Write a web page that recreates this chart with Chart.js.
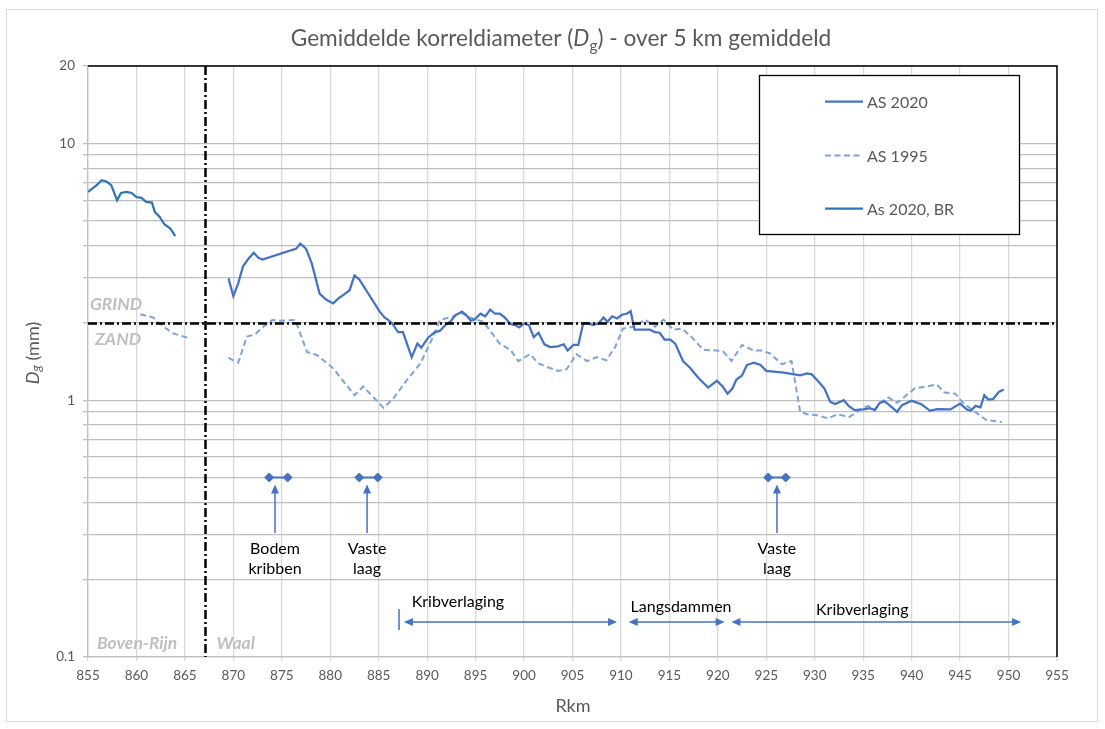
<!DOCTYPE html>
<html><head><meta charset="utf-8">
<script src="https://cdn.jsdelivr.net/npm/chart.js@4.4.1/dist/chart.umd.min.js"></script>
<style>html,body{margin:0;padding:0;background:#fff}canvas{display:block}</style>
</head><body><canvas id="c" width="1105" height="729"></canvas>
<script>
// ---------- data ----------
const as2020Km = [869.5,870.0,870.5,871.0,871.5,872.1,872.6,873.0,876.5,876.9,877.5,878.1,878.9,879.6,880.3,880.9,881.3,882.0,882.5,883.0,885.1,885.6,886.0,886.4,887.0,887.5,888.4,889.0,889.4,890.1,890.8,891.3,892.0,892.4,892.9,893.6,894.0,894.5,894.9,895.5,896.0,896.5,897.0,897.5,898.0,898.6,899.1,899.5,900.0,900.5,901.0,901.5,902.1,902.7,903.5,904.1,904.5,905.1,905.6,906.1,906.5,907.1,907.7,908.2,908.6,909.1,909.6,910.1,910.6,911.0,911.4,912.1,913.0,913.5,914.0,914.5,915.1,915.6,916.4,917.1,918.0,919.0,919.9,920.5,921.0,921.5,921.9,922.5,923.0,923.7,924.4,925.0,926.8,928.5,929.2,929.7,930.4,931.0,931.6,932.1,933.0,933.5,934.1,935.0,935.7,936.2,936.7,937.2,937.7,938.5,939.0,940.0,941.0,941.9,942.6,944.0,945.0,945.7,946.1,946.6,947.1,947.5,947.9,948.4,949.0,949.5];
const as2020Dg = [2.98,2.54,2.85,3.32,3.53,3.75,3.58,3.53,3.89,4.07,3.89,3.40,2.60,2.46,2.38,2.50,2.56,2.68,3.06,2.95,2.21,2.10,2.05,1.99,1.84,1.84,1.47,1.66,1.60,1.75,1.84,1.86,1.98,2.02,2.14,2.21,2.15,2.04,2.06,2.17,2.12,2.25,2.17,2.17,2.10,1.98,1.96,1.92,1.99,1.96,1.76,1.83,1.65,1.61,1.62,1.65,1.56,1.64,1.64,1.99,2.00,1.96,1.99,2.10,2.02,2.12,2.08,2.15,2.17,2.22,1.88,1.88,1.88,1.84,1.83,1.72,1.72,1.66,1.42,1.34,1.22,1.12,1.19,1.13,1.06,1.11,1.20,1.25,1.37,1.40,1.37,1.30,1.28,1.25,1.27,1.26,1.18,1.11,0.985,0.965,1.00,0.95,0.914,0.92,0.93,0.914,0.976,0.99,0.956,0.90,0.956,0.994,0.965,0.909,0.923,0.92,0.97,0.92,0.909,0.95,0.937,1.046,1.006,1.01,1.077,1.10];

const as1995Km = [860.4,861.7,862.8,863.8,865.5,867.0,869.5,870.5,871.4,872.2,873.1,874.0,874.8,876.4,877.6,878.6,880.3,882.5,883.4,885.5,886.5,887.9,889.3,890.6,891.3,892.7,893.4,894.4,895.8,897.5,898.6,899.4,900.6,901.5,902.3,903.5,904.4,905.4,906.5,907.5,908.5,909.4,910.2,911.3,912.5,913.5,914.4,915.4,916.3,917.3,918.5,919.9,920.6,921.4,922.5,923.7,924.5,925.4,926.6,927.6,928.5,929.3,930.2,931.4,932.3,933.6,934.7,935.5,936.2,936.9,937.6,938.5,940.3,941.5,942.6,943.4,944.5,945.3,946.4,947.7,949.3];
const as1995Dg = [2.16,2.10,1.93,1.82,1.74,null,1.46,1.40,1.77,1.80,1.93,2.05,2.04,2.05,1.54,1.50,1.33,1.046,1.13,0.933,1.015,1.196,1.39,1.76,2.05,2.12,2.20,2.10,2.02,1.66,1.57,1.42,1.51,1.39,1.35,1.30,1.32,1.51,1.42,1.47,1.43,1.61,1.90,1.93,2.06,1.93,2.06,1.88,1.90,1.76,1.57,1.56,1.54,1.42,1.64,1.56,1.56,1.52,1.38,1.42,0.90,0.88,0.874,0.849,0.88,0.861,0.92,0.95,0.92,0.985,1.024,0.976,1.11,1.13,1.15,1.07,1.06,0.976,0.909,0.836,0.823];

const br2020Km = [855.0,855.9,856.4,856.9,857.4,858.0,858.4,859.0,859.5,860.0,860.5,861.0,861.6,861.9,862.4,862.9,863.5,864.0];
const br2020Dg = [6.47,6.87,7.18,7.10,6.87,6.00,6.41,6.47,6.41,6.18,6.13,5.91,5.88,5.40,5.17,4.83,4.66,4.35];

const seriesNames = ["AS 2020","AS 1995","As 2020, BR"];
const yGridValues = [0.1,0.2,0.3,0.4,0.5,0.6,0.7,0.8,0.9,1,2,3,4,5,6,7,8,9,10,20];
const yLabelValues = [0.1,1,10,20];

const markerKm = [[873.7,875.6],[883.0,884.9],[925.2,927.0]];
const markerDg = 0.5;
const upArrowKm = [874.3,883.8,926.1];
const upArrowLabels = [["Bodem","kribben"],["Vaste","laag"],["Vaste","laag"]];
const spanKm = [[887.6,909.6],[910.8,920.7],[921.4,951.3]];
const spanStartTickKm = 887.1;
const spanLabels = ["Kribverlaging","Langsdammen","Kribverlaging"];
const spanLabelKm = [888.4,916.2,934.9];
const boundaryKm = 867.1;
const grindZandDg = 2.0;
const reachLabels = ["Boven-Rijn","Waal"];

// ---------- chart ----------
const FONT = "Lato, 'Open Sans', sans-serif";
const pts = (xs, ys) => xs.map((x,i)=>({x:x, y:ys[i]}));

const markerSets = markerKm.map(p => ({
  label: 'marker', data: pts(p, [markerDg, markerDg]),
  borderColor:'#4472C4', backgroundColor:'#4472C4', borderWidth:2,
  pointStyle:'rectRot', pointRadius:4.5, pointBorderWidth:1, fill:false
}));

function arrowHead(ctx, x, y, dir, len, half) {
  ctx.beginPath();
  if (dir === 'up') { ctx.moveTo(x,y); ctx.lineTo(x-half,y+len); ctx.lineTo(x+half,y+len); }
  else if (dir === 'left') { ctx.moveTo(x,y); ctx.lineTo(x+len,y-half); ctx.lineTo(x+len,y+half); }
  else { ctx.moveTo(x,y); ctx.lineTo(x-len,y-half); ctx.lineTo(x-len,y+half); }
  ctx.closePath(); ctx.fill();
}

const decor = {
  id:'decor',
  beforeDraw(chart){
    const ctx = chart.ctx;
    ctx.save(); ctx.fillStyle='#fff'; ctx.fillRect(0,0,chart.width,chart.height); ctx.restore();
  },
  afterDatasetsDraw(chart){
    const ctx = chart.ctx, a = chart.chartArea;
    const xs = chart.scales.x, ys = chart.scales.y;
    ctx.save();
    // dash-dot boundary lines
    ctx.strokeStyle = '#000'; ctx.lineWidth = 2.5; ctx.setLineDash([9,3,2,3]);
    const bx = Math.round(xs.getPixelForValue(boundaryKm))+0.5;
    ctx.beginPath(); ctx.moveTo(bx, a.top); ctx.lineTo(bx, a.bottom); ctx.stroke();
    const gy = Math.round(ys.getPixelForValue(grindZandDg))+0.5;
    ctx.beginPath(); ctx.moveTo(a.left, gy); ctx.lineTo(a.right, gy); ctx.stroke();
    ctx.setLineDash([]);
    // plot border top & right
    ctx.lineWidth = 1.5; ctx.strokeStyle='#000';
    ctx.beginPath(); ctx.moveTo(a.left, a.top); ctx.lineTo(a.right, a.top); ctx.lineTo(a.right, a.bottom); ctx.stroke();

    // GRIND / ZAND, reach labels
    ctx.fillStyle = '#BFBFBF'; ctx.font = 'italic bold 17.5px '+FONT; ctx.textBaseline='middle'; ctx.textAlign='left';
    ctx.fillText('GRIND', a.left+2, gy-19);
    ctx.fillText('ZAND', a.left+7, gy+16);
    ctx.fillText(reachLabels[0], a.left+9, a.bottom-14);
    ctx.fillText(reachLabels[1], bx+11, a.bottom-14);

    // up arrows & labels
    ctx.strokeStyle = '#4472C4'; ctx.fillStyle = '#4472C4'; ctx.lineWidth = 1.5;
    const tipY = ys.getPixelForValue(0.47), baseY = ys.getPixelForValue(0.304);
    upArrowKm.forEach((km,i)=>{
      const x = xs.getPixelForValue(km);
      ctx.beginPath(); ctx.moveTo(x, baseY); ctx.lineTo(x, tipY+6); ctx.stroke();
      arrowHead(ctx, x, tipY, 'up', 9, 4);
    });
    ctx.fillStyle = '#000'; ctx.font = '16px '+FONT; ctx.textAlign='center';
    upArrowKm.forEach((km,i)=>{
      const x = xs.getPixelForValue(km);
      ctx.fillText(upArrowLabels[i][0], x, baseY+16);
      ctx.fillText(upArrowLabels[i][1], x, baseY+36);
    });

    // horizontal span arrows
    const sy = ys.getPixelForValue(0.137);
    ctx.strokeStyle = '#4472C4'; ctx.fillStyle = '#4472C4'; ctx.lineWidth = 1.5;
    spanKm.forEach(s=>{
      const x1 = xs.getPixelForValue(s[0]), x2 = xs.getPixelForValue(s[1]);
      ctx.beginPath(); ctx.moveTo(x1+6, sy); ctx.lineTo(x2-6, sy); ctx.stroke();
      arrowHead(ctx, x1, sy, 'left', 9, 4);
      arrowHead(ctx, x2, sy, 'right', 9, 4);
    });
    const tx = xs.getPixelForValue(spanStartTickKm);
    ctx.beginPath(); ctx.moveTo(tx, sy-13); ctx.lineTo(tx, sy+8); ctx.stroke();
    ctx.fillStyle = '#000'; ctx.font = '16px '+FONT;
    const offs = [-20,-15,-12], aligns = ['left','center','center'];
    spanLabels.forEach((t,i)=>{
      ctx.textAlign = aligns[i];
      ctx.fillText(t, xs.getPixelForValue(spanLabelKm[i]), sy+offs[i]);
    });
    ctx.restore();
  },
  afterDraw(chart){
    const ctx = chart.ctx, a = chart.chartArea;
    ctx.save();
    // outer frame
    ctx.strokeStyle = '#D9D9D9'; ctx.lineWidth = 1;
    ctx.strokeRect(6.5, 9.5, 1091, 712);

    // title
    const parts = [
      {t:'Gemiddelde korreldiameter (', f:'', s:1, dy:0},
      {t:'D', f:'italic ', s:1, dy:0},
      {t:'g', f:'', s:0.68, dy:5},
      {t:') - over 5 km gemiddeld', f:'', s:1, dy:0}
    ];
    const base = 18;
    let w0 = 0;
    parts.forEach(p=>{ ctx.font = p.f + (base*p.s)+'px '+FONT; w0 += ctx.measureText(p.t).width; });
    const size = base * 541 / w0;
    let total = 0;
    parts.forEach(p=>{ ctx.font = p.f + (size*p.s)+'px '+FONT; p.w = ctx.measureText(p.t).width; total += p.w; });
    let x = 561 - total/2;
    ctx.fillStyle = '#595959'; ctx.textBaseline = 'alphabetic'; ctx.textAlign='left';
    parts.forEach(p=>{ ctx.font = p.f + (size*p.s)+'px '+FONT; ctx.fillText(p.t, x, 46 + p.dy); x += p.w; });

    // y axis title
    ctx.translate(33, 353); ctx.rotate(-Math.PI/2);
    const yp = [
      {t:'D', f:'italic ', s:18, dy:0},
      {t:'g', f:'italic ', s:13, dy:4},
      {t:' (mm)', f:'', s:18, dy:0}
    ];
    let yt = 0;
    yp.forEach(p=>{ ctx.font = p.f + p.s+'px '+FONT; p.w = ctx.measureText(p.t).width; yt += p.w; });
    let yx = -yt/2;
    ctx.textBaseline = 'middle';
    yp.forEach(p=>{ ctx.font = p.f + p.s+'px '+FONT; ctx.fillText(p.t, yx, p.dy); yx += p.w; });
    ctx.setTransform(1,0,0,1,0,0);

    // x axis title
    ctx.font = '18px '+FONT; ctx.textAlign='center'; ctx.textBaseline='middle';
    ctx.fillText('Rkm', 573, 706);

    // legend
    const L = {x:759.5, y:75.5, w:260, h:159};
    ctx.fillStyle = '#fff'; ctx.fillRect(L.x, L.y, L.w, L.h);
    ctx.strokeStyle = '#000'; ctx.lineWidth = 1.3; ctx.strokeRect(L.x, L.y, L.w, L.h);
    const ds = chart.data.datasets;
    const rows = [101.5, 155.5, 208.5];
    [0,1,2].forEach(i=>{
      const d = ds[i];
      ctx.strokeStyle = d.borderColor; ctx.lineWidth = d.borderWidth;
      ctx.setLineDash(d.borderDash || []);
      ctx.beginPath(); ctx.moveTo(825, rows[i]); ctx.lineTo(863, rows[i]); ctx.stroke();
      ctx.setLineDash([]);
      ctx.fillStyle = '#595959'; ctx.font = '16px '+FONT; ctx.textAlign='left'; ctx.textBaseline='middle';
      ctx.fillText(d.label, 867, rows[i]+1);
    });
    ctx.restore();
  }
};

new Chart(document.getElementById('c'), {
  type: 'line',
  data: {
    datasets: [
      {label: seriesNames[0], data: pts(as2020Km, as2020Dg), borderColor:'#4472C4', borderWidth:2.25, pointRadius:0, fill:false, tension:0},
      {label: seriesNames[1], data: pts(as1995Km, as1995Dg), borderColor:'#7CA3DA', borderWidth:2, borderDash:[6,3.5], pointRadius:0, fill:false, tension:0, spanGaps:false},
      {label: seriesNames[2], data: pts(br2020Km, br2020Dg), borderColor:'#2E75B6', borderWidth:2.25, pointRadius:0, fill:false, tension:0},
      ...markerSets
    ]
  },
  options: {
    responsive: false, animation: false, devicePixelRatio: 1,
    layout: {padding: {top: 66, right: 48, bottom: 0, left: 0}},
    plugins: {legend: {display:false}, title: {display:false}, tooltip: {enabled:false}},
    scales: {
      x: {
        type: 'linear', min: 855, max: 955,
        afterFit: s => { s.height = 72; },
        ticks: {stepSize: 5, autoSkip: false, maxRotation: 0, color:'#595959', font:{family:FONT, size:13.5}, padding: 7},
        grid: {color:'#D9D9D9', lineWidth:1.3, tickLength:4, tickColor:'#D9D9D9'},
        border: {color:'#BFBFBF', width:1.3}
      },
      y: {
        type: 'logarithmic', min: 0.1, max: 20,
        afterFit: s => { s.width = 88; },
        afterBuildTicks: s => { s.ticks = yGridValues.map(v => ({value: v})); },
        ticks: {autoSkip: false, color:'#595959', font:{family:FONT, size:13.5}, padding: 8,
          callback: v => yLabelValues.includes(v) ? String(v) : ''},
        grid: {color:'#BFBFBF', lineWidth:1.3, tickLength:5, tickColor:'#BFBFBF'},
        border: {color:'#BFBFBF', width:1.3}
      }
    }
  },
  plugins: [decor]
});
</script>
</body></html>
